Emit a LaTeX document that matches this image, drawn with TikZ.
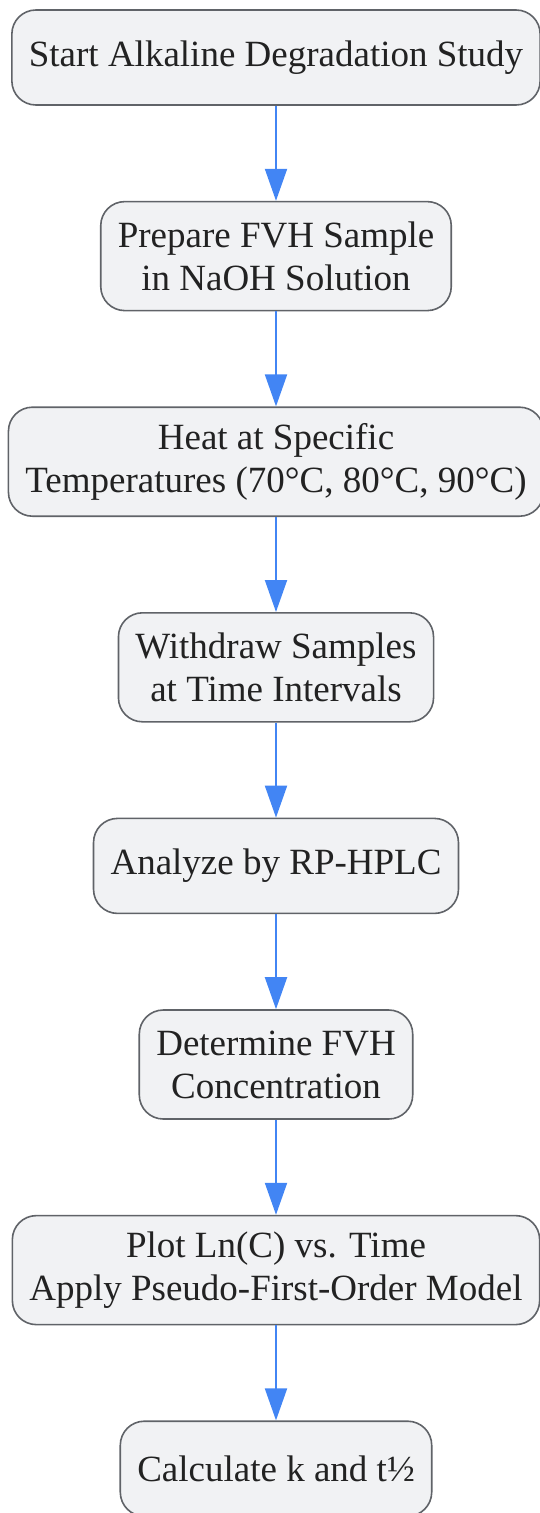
\documentclass[tikz,border=0pt]{standalone}
\usepackage{fontspec}
\setmainfont{Liberation Serif}
\usepackage{xcolor}
\usetikzlibrary{arrows.meta}
\usetikzlibrary{positioning}
\definecolor{boxfill}{HTML}{F1F2F4}
\definecolor{boxline}{HTML}{606368}
\definecolor{boxtext}{HTML}{222222}
\definecolor{flowblue}{HTML}{4285F4}
\tikzset{
    stepnode/.style = {rectangle, rounded corners=24pt, draw=boxline, fill=boxfill, line width=1.6pt, text=boxtext, align=center, inner xsep=17pt, inner ysep=0pt, font=\fontsize{37}{43}\selectfont},
    one_line/.style = {stepnode, minimum height=95pt},
    two_line/.style = {stepnode, minimum height=109pt},
    flow/.style = {draw=flowblue, line width=2pt, -{Triangle[width=22pt, length=32pt]}}
}

\begin{document}
\begin{tikzpicture}[node distance=95pt]
                    \useasboundingbox (0,0) rectangle (540pt,-1513pt);
                    \node [one_line] (start) at (276pt,-57.5pt) {Start Alkaline Degradation Study};
                    \node [two_line, below=of start] (prepare) {Prepare FVH Sample\\in NaOH Solution};
                    \node [two_line, below=of prepare] (heat) {Heat at Specific\\Temperatures (70°C, 80°C, 90°C)};
                    \node [two_line, below=of heat] (withdraw) {Withdraw Samples\\at Time Intervals};
                    \node [one_line, below=of withdraw] (analyze) {Analyze by RP-HPLC};
                    \node [two_line, below=of analyze] (determine) {Determine FVH\\Concentration};
                    \node [two_line, below=of determine] (plot) {Plot Ln(C) vs. Time\\Apply Pseudo-First-Order Model};
                    \node [one_line, below=of plot] (calc) {Calculate k and t½};
                    \draw [flow] (start) -- (prepare);
                    \draw [flow] (prepare) -- (heat);
                    \draw [flow] (heat) -- (withdraw);
                    \draw [flow] (withdraw) -- (analyze);
                    \draw [flow] (analyze) -- (determine);
                    \draw [flow] (determine) -- (plot);
                    \draw [flow] (plot) -- (calc);
\end{tikzpicture}
\end{document}
